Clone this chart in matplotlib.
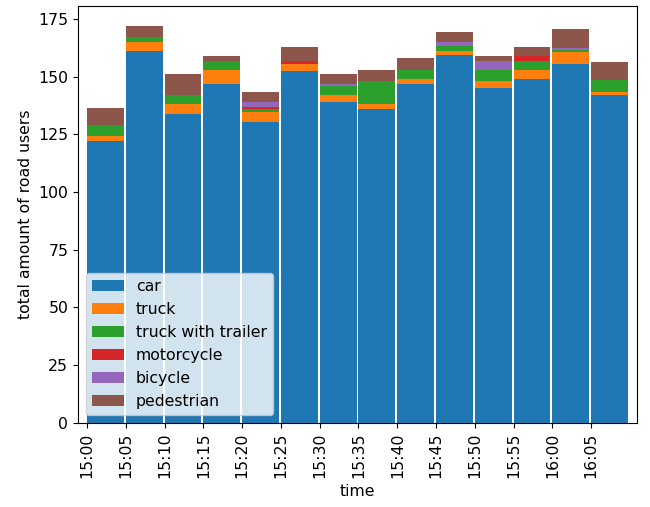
import matplotlib
matplotlib.use("Agg")
import matplotlib.pyplot as plt
import numpy as np

plt.rcParams['font.size'] = 11.3

# time slots (5 min)
times = ['15:00', '15:05', '15:10', '15:15', '15:20', '15:25', '15:30',
         '15:35', '15:40', '15:45', '15:50', '15:55', '16:00', '16:05']

# counts per category
car = [122, 161, 134, 147, 130.5, 152.5, 139, 136, 147, 159.5, 145, 149, 155.5, 142]
truck = [2.5, 4, 4, 6, 4, 3, 3, 2, 2, 1.5, 3, 4, 5, 1.5]
truck_trailer = [4.5, 2, 4, 4, 1.5, 0, 4, 10, 4, 2.5, 5, 4, 1, 5]
motorcycle = [0, 0, 0, 0, 1, 1.5, 0, 0, 0, 0, 0, 2, 0, 0]
bicycle = [0, 0, 0, 0, 2, 0, 1, 0, 0, 1.5, 4, 0, 1, 0]
pedestrian = [7.5, 5, 9, 2, 4.5, 6, 4, 5, 5, 4.5, 2, 4, 8, 8]

labels = ['car', 'truck', 'truck with trailer', 'motorcycle', 'bicycle', 'pedestrian']
series = [car, truck, truck_trailer, motorcycle, bicycle, pedestrian]

fig, ax = plt.subplots(figsize=(6.5, 5.07), dpi=100)
fig.subplots_adjust(left=0.12, right=0.98, bottom=0.166, top=0.988)

x = np.arange(len(times))
bottom = np.zeros(len(times))
for vals, lab in zip(series, labels):
    ax.bar(x, vals, width=0.95, bottom=bottom, align='edge', label=lab)
    bottom += np.array(vals)

ax.set_xlim(-0.23, len(times) - 0.05 + 0.23)
ax.set_xticks(x)
ax.set_xticklabels(times, rotation=90)
ax.set_xlabel('time')
ax.set_ylabel('total amount of road users')
ax.legend(loc='lower left')

plt.savefig('out.png')
